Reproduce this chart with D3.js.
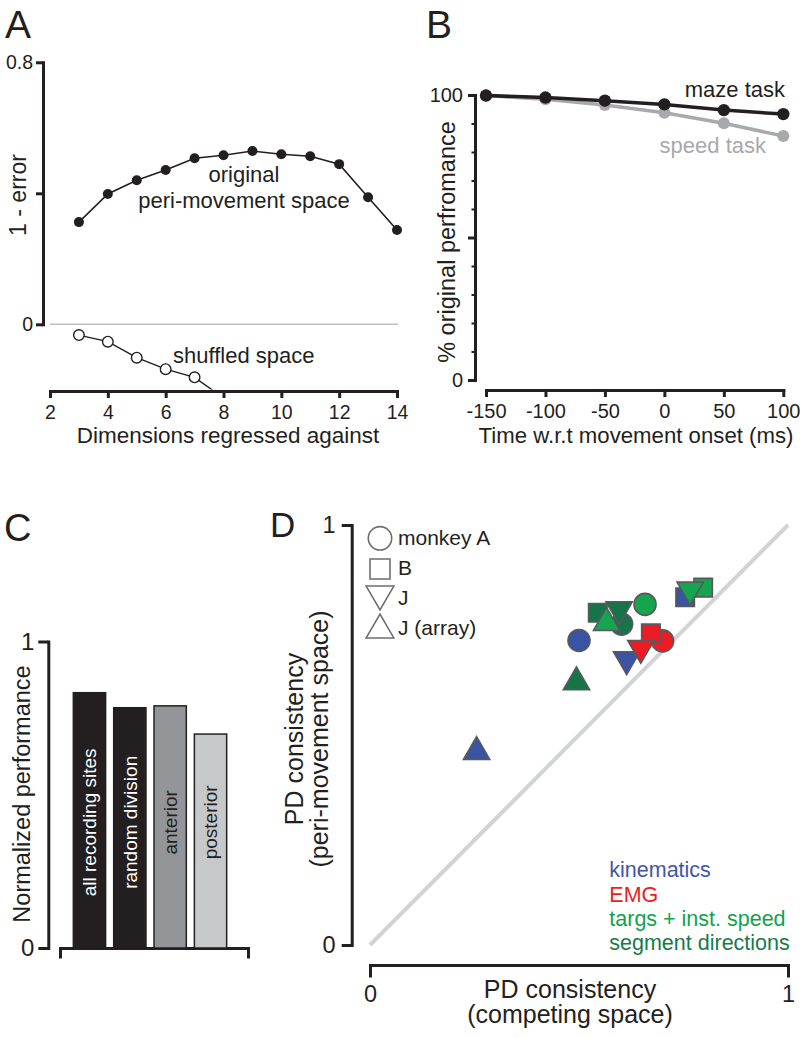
<!DOCTYPE html>
<html>
<head>
<meta charset="utf-8">
<script src="https://cdn.jsdelivr.net/npm/d3@7"></script>
<style>
  html, body { margin: 0; padding: 0; background: #fff; }
  svg { display: block; font-family: "Liberation Sans", Arial, Helvetica, sans-serif; }
</style>
</head>
<body>
<svg id="chart" width="800" height="1038"></svg>
<script>
// ---------------- DATA ----------------
// Panel A
const dimsA = [3, 4, 5, 6, 7, 8, 9, 10, 11, 12, 13, 14];
const originalA = [0.312, 0.398, 0.440, 0.471, 0.507, 0.516, 0.529, 0.519, 0.513, 0.489, 0.388, 0.288];
const shuffledDimsA = [3, 4, 5, 6, 7, 8];
const shuffledA = [-0.033, -0.053, -0.102, -0.137, -0.162, -0.225];
const xTicksA = [2, 4, 6, 8, 10, 12, 14];
const yTicksA = [0, 0.4, 0.8];
const yTickLabelsA = ["0", "", "0.8"];

// Panel B
const timesB = [-150, -100, -50, 0, 50, 100];
const mazeB = [99.8, 99.1, 98.0, 96.7, 94.7, 93.3];
const speedB = [99.8, 98.5, 96.5, 93.8, 90.1, 85.6];
const xTickLabelsB = ["-150", "-100", "-50", "0", "50", "100"];
const yMajorTicksB = [0, 50, 100];
const yMajorLabelsB = ["0", "", "100"];
const yMinorTicksB = [10, 20, 30, 40, 60, 70, 80, 90];

// Panel C
const categoriesC = ["all recording sites", "random division", "anterior", "posterior"];
const valuesC = [0.833, 0.784, 0.790, 0.698];
const barFillsC = ["#231f20", "#231f20", "#939598", "#c7c8ca"];
const barTextC = ["#ffffff", "#ffffff", "#231f20", "#231f20"];
const yTicksC = [0, 1];

// Panel D  (order within each set: monkey A, B, J, J (array))
const monkeysD = ["monkey A", "B", "J", "J (array)"];
const featureSetsD = ["kinematics", "EMG", "targs + inst. speed", "segment directions"];
const segmentX = [0.602, 0.545, 0.596, 0.494];
const segmentY = [0.764, 0.791, 0.799, 0.626];
const kinematicsX = [0.500, 0.754, 0.614, 0.255];
const kinematicsY = [0.725, 0.828, 0.680, 0.460];
const emgX = [0.700, 0.672, 0.648, null];
const emgY = [0.724, 0.742, 0.707, null];
const targsX = [0.658, 0.797, 0.766, 0.566];
const targsY = [0.811, 0.851, 0.846, 0.767];
const ticksD = [0, 1];

// ---------------- STYLE ----------------
const INK = "#231f20";
const svg = d3.select("#chart");
svg.append("rect").attr("width", 800).attr("height", 1038).attr("fill", "#fff");

function styleAxis(g, width, fontSize) {
  g.attr("font-family", null).attr("font-size", null);
  g.selectAll("path.domain").attr("stroke", INK).attr("stroke-width", width).attr("stroke-linecap", "square");
  g.selectAll(".tick line").attr("stroke", INK).attr("stroke-width", width);
  g.selectAll(".tick text").attr("fill", INK).style("font-size", fontSize + "px")
    .style("font-family", "'Liberation Sans', Arial, sans-serif");
}
function panelLabel(t, x, y, size) {
  svg.append("text").attr("x", x).attr("y", y).attr("font-size", size).attr("fill", INK).text(t);
}
function rotText(t, x, y, size, color) {
  svg.append("text").attr("transform", `translate(${x},${y}) rotate(-90)`)
    .attr("text-anchor", "middle").attr("font-size", size).attr("fill", color || INK).text(t);
}

// ================= PANEL A =================
panelLabel("A", 5, 38, 39);
const xA = d3.scaleLinear().domain([2, 14]).range([50, 397]);
const yA = d3.scaleLinear().domain([0, 0.8]).range([324.3, 62.3]);

svg.append("line").attr("x1", 50).attr("x2", 398).attr("y1", yA(0)).attr("y2", yA(0))
  .attr("stroke", "#bcbec0").attr("stroke-width", 1.5);

const gAy = svg.append("g").attr("transform", "translate(43,0)")
  .call(d3.axisLeft(yA).tickValues(yTicksA).tickSize(7).tickSizeOuter(0).tickPadding(3)
    .tickFormat((d, i) => yTickLabelsA[i]));
styleAxis(gAy, 3, 19.5);

const gAx = svg.append("g").attr("transform", "translate(0,391)")
  .call(d3.axisBottom(xA).tickValues(xTicksA).tickSize(7).tickSizeOuter(0).tickPadding(7));
styleAxis(gAx, 3, 19.5);

svg.append("defs").append("clipPath").attr("id", "clipA")
  .append("rect").attr("x", 0).attr("y", 40).attr("width", 420).attr("height", 349.5);

const gA = svg.append("g").attr("clip-path", "url(#clipA)");
const lineA = d3.line().x(d => xA(d[0])).y(d => yA(d[1]));
const origPts = dimsA.map((d, i) => [d, originalA[i]]);
const shufPts = shuffledDimsA.map((d, i) => [d, shuffledA[i]]);
gA.append("path").datum(origPts).attr("d", lineA).attr("fill", "none").attr("stroke", INK).attr("stroke-width", 1.6);
gA.selectAll("circle.orig").data(origPts).join("circle").attr("class", "orig")
  .attr("cx", d => xA(d[0])).attr("cy", d => yA(d[1])).attr("r", 5).attr("fill", INK);
gA.append("path").datum(shufPts).attr("d", lineA).attr("fill", "none").attr("stroke", INK).attr("stroke-width", 1.4);
gA.selectAll("circle.shuf").data(shufPts).join("circle").attr("class", "shuf")
  .attr("cx", d => xA(d[0])).attr("cy", d => yA(d[1])).attr("r", 5.3)
  .attr("fill", "#fff").attr("stroke", INK).attr("stroke-width", 1.4);

svg.append("text").attr("x", 244).attr("y", 182).attr("text-anchor", "middle").attr("font-size", 22).attr("fill", INK).text("original");
svg.append("text").attr("x", 244).attr("y", 208).attr("text-anchor", "middle").attr("font-size", 22).attr("fill", INK).text("peri-movement space");
svg.append("text").attr("x", 173).attr("y", 363).attr("font-size", 22).attr("fill", INK).text("shuffled space");
rotText("1 - error", 26, 195, 23);
svg.append("text").attr("x", 228).attr("y", 443).attr("text-anchor", "middle").attr("font-size", 22.5).attr("fill", INK).text("Dimensions regressed against");

// ================= PANEL B =================
panelLabel("B", 426, 38, 39);
const xB = d3.scaleLinear().domain([-150, 100]).range([486, 783.3]);
const yB = d3.scaleLinear().domain([0, 100]).range([380, 95]);

const gBy = svg.append("g").attr("transform", "translate(475,0)")
  .call(d3.axisLeft(yB).tickValues(yMajorTicksB).tickSize(7).tickSizeOuter(0).tickPadding(5)
    .tickFormat((d, i) => yMajorLabelsB[i]));
styleAxis(gBy, 3, 20);
const gByMinor = svg.append("g").attr("transform", "translate(475,0)")
  .call(d3.axisLeft(yB).tickValues(yMinorTicksB).tickSize(3.5).tickSizeOuter(0).tickFormat(""));
gByMinor.select("path.domain").remove();
gByMinor.selectAll(".tick line").attr("stroke", INK).attr("stroke-width", 2);

const gBx = svg.append("g").attr("transform", "translate(0,390)")
  .call(d3.axisBottom(xB).tickValues(timesB).tickSize(7).tickSizeOuter(0).tickPadding(7)
    .tickFormat((d, i) => xTickLabelsB[i]));
styleAxis(gBx, 3, 20);

const lineB = d3.line().x(d => xB(d[0])).y(d => yB(d[1]));
const speedPts = timesB.map((t, i) => [t, speedB[i]]);
const mazePts = timesB.map((t, i) => [t, mazeB[i]]);
const GRAY_B = "#a7a9ac";
svg.append("path").datum(speedPts).attr("d", lineB).attr("fill", "none").attr("stroke", GRAY_B).attr("stroke-width", 3.5);
svg.selectAll("circle.speed").data(speedPts).join("circle").attr("class", "speed")
  .attr("cx", d => xB(d[0])).attr("cy", d => yB(d[1])).attr("r", 6).attr("fill", GRAY_B);
svg.append("path").datum(mazePts).attr("d", lineB).attr("fill", "none").attr("stroke", INK).attr("stroke-width", 3.5);
svg.selectAll("circle.maze").data(mazePts).join("circle").attr("class", "maze")
  .attr("cx", d => xB(d[0])).attr("cy", d => yB(d[1])).attr("r", 6.2).attr("fill", INK);

svg.append("text").attr("x", 785).attr("y", 97).attr("text-anchor", "end").attr("font-size", 22).attr("fill", INK).text("maze task");
svg.append("text").attr("x", 766).attr("y", 153).attr("text-anchor", "end").attr("font-size", 22).attr("fill", GRAY_B).text("speed task");
rotText("% original perfromance", 455, 242, 23.5);
svg.append("text").attr("x", 636).attr("y", 443).attr("text-anchor", "middle").attr("font-size", 22.2).attr("fill", INK).text("Time w.r.t movement onset (ms)");

// ================= PANEL C =================
panelLabel("C", 4, 541, 38);
const yC = d3.scaleLinear().domain([0, 1]).range([948, 641.5]);
const xC = d3.scaleBand().domain(categoriesC).range([69.3, 230.7]).paddingInner(0.2).paddingOuter(0.1);

const gCy = svg.append("g").attr("transform", "translate(48.3,0)")
  .call(d3.axisLeft(yC).tickValues(yTicksC).tickSize(10).tickSizeOuter(0).tickPadding(4).tickFormat(d3.format("d")));
styleAxis(gCy, 3, 24);

const xCaxis = d3.scaleLinear().domain([0, 1]).range([60, 248]);
const gCx = svg.append("g").attr("transform", "translate(0,948)")
  .call(d3.axisBottom(xCaxis).tickValues([]).tickSizeOuter(9));
styleAxis(gCx, 3, 20);

svg.selectAll("rect.barC").data(categoriesC).join("rect").attr("class", "barC")
  .attr("x", d => xC(d)).attr("width", xC.bandwidth())
  .attr("y", (d, i) => yC(valuesC[i])).attr("height", (d, i) => yC(0) - yC(valuesC[i]))
  .attr("fill", (d, i) => barFillsC[i]).attr("stroke", INK).attr("stroke-width", 1.5);
svg.selectAll("text.barC").data(categoriesC).join("text").attr("class", "barC")
  .attr("transform", d => `translate(${xC(d) + xC.bandwidth() / 2},${yC(0.41)}) rotate(-90)`)
  .attr("text-anchor", "middle").attr("dy", "0.36em").attr("font-size", 19)
  .attr("fill", (d, i) => barTextC[i]).text(d => d);
rotText("Normalized performance", 29.5, 794, 23.5);

// ================= PANEL D =================
panelLabel("D", 270, 537, 35);
const xD = d3.scaleLinear().domain([0, 1]).range([370, 788]);
const yD = d3.scaleLinear().domain([0, 1]).range([945, 525]);

svg.append("line").attr("x1", xD(0)).attr("y1", yD(0)).attr("x2", xD(1)).attr("y2", yD(1))
  .attr("stroke", "#d1d3d4").attr("stroke-width", 4);

const gDy = svg.append("g").attr("transform", "translate(351.7,0)")
  .call(d3.axisLeft(yD).tickValues(ticksD).tickSize(10).tickSizeOuter(0).tickPadding(6).tickFormat(d3.format("d")));
styleAxis(gDy, 3, 23.5);
const gDx = svg.append("g").attr("transform", "translate(0,965)")
  .call(d3.axisBottom(xD).tickValues(ticksD).tickSize(11).tickSizeOuter(11).tickPadding(9).tickFormat(d3.format("d")));
styleAxis(gDx, 3, 23.5);

const symTypes = [d3.symbolCircle, d3.symbolSquare, d3.symbolTriangle, d3.symbolTriangle];
const symSizes = [380, 342, 300, 300];
const symRot = [0, 0, 180, 0];
const symLegendSizes = [430, 400, 330, 330];
const setColors = ["#3b53a4", "#ed1c24", "#16a54f", "#157549"];
const legendTextColors = ["#4356a6", "#ed1c24", "#12a24e", "#177a4b"];
const MSTROKE = "#58595b";

function drawSet(xs, ys, colorIdx, order) {
  order.forEach(i => {
    if (xs[i] == null) return;
    svg.append("path")
      .attr("d", d3.symbol().type(symTypes[i]).size(symSizes[i])())
      .attr("transform", `translate(${xD(xs[i])},${yD(ys[i])}) rotate(${symRot[i]})`)
      .attr("fill", setColors[colorIdx]).attr("stroke", MSTROKE).attr("stroke-width", 1.6);
  });
}
drawSet(segmentX, segmentY, 3, [0, 1, 2, 3]);
drawSet(kinematicsX, kinematicsY, 0, [0, 1, 2, 3]);
drawSet(emgX, emgY, 1, [0, 1, 2]);
drawSet(targsX, targsY, 2, [0, 1, 2, 3]);

// shape legend
const legY = [538.3, 569, 594, 630];
monkeysD.forEach((m, i) => {
  svg.append("path")
    .attr("d", d3.symbol().type(symTypes[i]).size(symLegendSizes[i])())
    .attr("transform", `translate(380,${legY[i]}) rotate(${symRot[i]})`)
    .attr("fill", "#fff").attr("stroke", "#6d6e71").attr("stroke-width", 1.6);
});
const legTextY = [545, 575, 605, 635];
monkeysD.forEach((m, i) => {
  svg.append("text").attr("x", 398).attr("y", legTextY[i]).attr("font-size", 21).attr("fill", INK).text(m);
});
// color legend
featureSetsD.forEach((f, i) => {
  svg.append("text").attr("x", 609.3).attr("y", 877.3 + i * 24.3).attr("font-size", 21.5)
    .attr("fill", legendTextColors[i]).text(f);
});

rotText("PD consistency", 303, 739, 25);
rotText("(peri-movement space)", 328, 739, 25);
svg.append("text").attr("x", 570).attr("y", 998).attr("text-anchor", "middle").attr("font-size", 25).attr("fill", INK).text("PD consistency");
svg.append("text").attr("x", 570).attr("y", 1023).attr("text-anchor", "middle").attr("font-size", 25).attr("fill", INK).text("(competing space)");
</script>
</body>
</html>
